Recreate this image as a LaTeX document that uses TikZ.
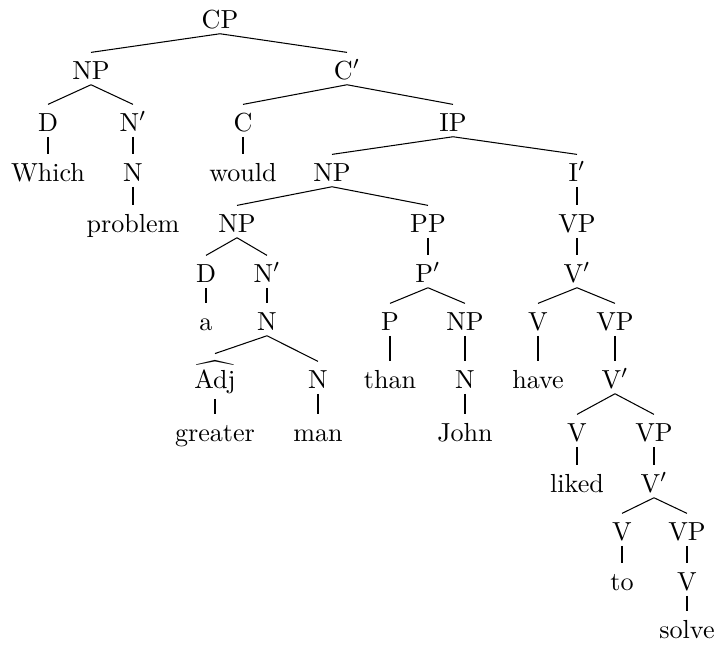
\documentclass[tikz,border=0pt]{standalone}
\begin{document}
\begin{tikzpicture}[x=0.3831pt,y=-0.3831pt,inner sep=2pt,
cat/.style={anchor=base,text height=8pt,text depth=0pt}]
\useasboundingbox (0,0) rectangle (717,644);
\draw (220,28) node[cat] (CP) {CP};
\draw (91,79) node[cat] (np) {NP};
\draw (347,79) node[cat] (cbar) {C$'$};
\draw (48,131) node[cat] (d1) {D};
\draw (133,131) node[cat] (nbar1) {N$'$};
\draw (243,131) node[cat] (c) {C};
\draw (453,131) node[cat] (ip) {IP};
\draw (48,181) node[cat] (which) {Which};
\draw (133,181) node[cat] (n1) {N};
\draw (243,181) node[cat] (would) {would};
\draw (332,181) node[cat] (np2) {NP};
\draw (577,181) node[cat] (ibar) {I$'$};
\draw (133,232) node[cat] (problem) {problem};
\draw (237,232) node[cat] (np3) {NP};
\draw (428,232) node[cat] (pp) {PP};
\draw (577,232) node[cat] (vp1) {VP};
\draw (206,282) node[cat] (d2) {D};
\draw (267,282) node[cat] (nbar2) {N$'$};
\draw (428,282) node[cat] (pbar) {P$'$};
\draw (577,282) node[cat] (vbar1) {V$'$};
\draw (206,330) node[cat] (a) {a};
\draw (267,330) node[cat] (n2) {N};
\draw (390,330) node[cat] (p) {P};
\draw (465,330) node[cat] (np4) {NP};
\draw (538,330) node[cat] (v1) {V};
\draw (615,330) node[cat] (vp2) {VP};
\draw (215,388) node[cat,text height=11pt,text depth=2pt] (adj) {$\widehat{\mbox{Adj}}$};
\draw (318,388) node[cat] (n3) {N};
\draw (390,388) node[cat] (than) {than};
\draw (465,388) node[cat] (n4) {N};
\draw (538,388) node[cat] (have) {have};
\draw (615,388) node[cat] (vbar2) {V$'$};
\draw (215,441) node[cat] (greater) {greater};
\draw (318,441) node[cat] (man) {man};
\draw (465,441) node[cat] (john) {John};
\draw (577,441) node[cat] (v2) {V};
\draw (654,441) node[cat] (vp3) {VP};
\draw (577,492) node[cat] (liked) {liked};
\draw (654,492) node[cat] (vbar3) {V$'$};
\draw (622,540) node[cat] (v3) {V};
\draw (687,540) node[cat] (vp4) {VP};
\draw (622,590) node[cat] (to) {to};
\draw (687,590) node[cat] (v4) {V};
\draw (687,638) node[cat] (solve) {solve};
% branches
\draw (CP.south) -- (np.north) (CP.south) -- (cbar.north);
\draw (np.south) -- (d1.north) (np.south) -- (nbar1.north);
\draw (d1.south) -- (which.north);
\draw (nbar1.south) -- (n1.north);
\draw (n1.south) -- (problem.north);
\draw (cbar.south) -- (c.north) (cbar.south) -- (ip.north);
\draw (c.south) -- (would.north);
\draw (ip.south) -- (np2.north) (ip.south) -- (ibar.north);
\draw (np2.south) -- (np3.north) (np2.south) -- (pp.north);
\draw (np3.south) -- (d2.north) (np3.south) -- (nbar2.north);
\draw (d2.south) -- (a.north);
\draw (nbar2.south) -- (n2.north);
\draw (n2.south) -- (adj.north) (n2.south) -- (n3.north);
\draw (adj.south) -- (greater.north);
\draw (n3.south) -- (man.north);
\draw (pp.south) -- (pbar.north);
\draw (pbar.south) -- (p.north) (pbar.south) -- (np4.north);
\draw (p.south) -- (than.north);
\draw (np4.south) -- (n4.north);
\draw (n4.south) -- (john.north);
\draw (ibar.south) -- (vp1.north);
\draw (vp1.south) -- (vbar1.north);
\draw (vbar1.south) -- (v1.north) (vbar1.south) -- (vp2.north);
\draw (v1.south) -- (have.north);
\draw (vp2.south) -- (vbar2.north);
\draw (vbar2.south) -- (v2.north) (vbar2.south) -- (vp3.north);
\draw (v2.south) -- (liked.north);
\draw (vp3.south) -- (vbar3.north);
\draw (vbar3.south) -- (v3.north) (vbar3.south) -- (vp4.north);
\draw (v3.south) -- (to.north);
\draw (vp4.south) -- (v4.north);
\draw (v4.south) -- (solve.north);
\end{tikzpicture}
\end{document}
